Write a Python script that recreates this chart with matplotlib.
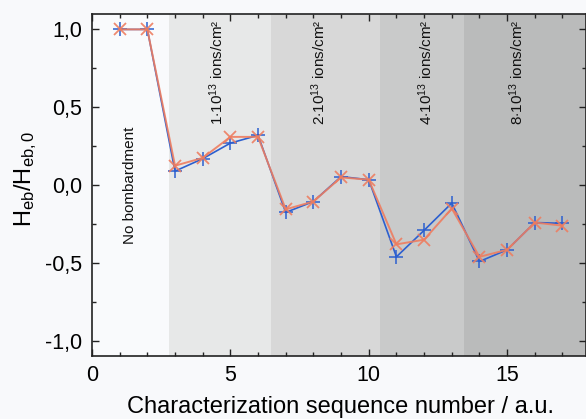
import matplotlib
matplotlib.use("Agg")
import matplotlib.pyplot as plt
from matplotlib.ticker import MultipleLocator

plt.rcParams['font.family'] = ['Liberation Sans', 'DejaVu Sans']
plt.rcParams['mathtext.fontset'] = 'custom'
plt.rcParams['mathtext.rm'] = 'Liberation Sans'
plt.rcParams['mathtext.it'] = 'Liberation Sans'

seq = list(range(1, 18))
h_blue = [1.0, 1.0, 0.09, 0.17, 0.27, 0.32, -0.175, -0.105, 0.055, 0.035,
          -0.46, -0.29, -0.115, -0.49, -0.415, -0.24, -0.245]
h_orange = [1.0, 1.0, 0.125, 0.175, 0.31, 0.31, -0.155, -0.105, 0.05, 0.035,
            -0.38, -0.35, -0.15, -0.46, -0.415, -0.24, -0.26]

band_edges = [2.8, 6.47, 10.4, 13.45, 18.0]
band_colors = ['#e7e8e8', '#d8d8d8', '#c9caca', '#babbbb']
band_labels = [r'1$\cdot$10$^{13}$ ions/cm²', r'2$\cdot$10$^{13}$ ions/cm²',
               r'4$\cdot$10$^{13}$ ions/cm²', r'8$\cdot$10$^{13}$ ions/cm²']
band_label_x = [4.52, 8.18, 12.05, 15.36]

yticks = [-1.0, -0.5, 0.0, 0.5, 1.0]
yticklabels = ['-1,0', '-0,5', '0,0', '0,5', '1,0']
xticks = [0, 5, 10, 15]

fig = plt.figure(figsize=(5.86, 4.19), dpi=100, facecolor='#f8f9fb')
ax = fig.add_axes([0.157, 0.151, 0.843, 0.816])
ax.set_facecolor('#f9fafc')

for i in range(4):
    ax.axvspan(band_edges[i], band_edges[i + 1], color=band_colors[i], lw=0, zorder=0)
    ax.text(band_label_x[i], 1.065, band_labels[i], rotation=90, ha='center', va='top',
            fontsize=11, color='#111111')

ax.text(1.39, 0.0, 'No bombardment', rotation=90, ha='center', va='center',
        fontsize=11, color='#111111')

ax.plot(seq, h_blue, color='#2c5fcf', lw=1.2, marker='+', ms=10, mew=1.1, zorder=3)
ax.plot(seq, h_orange, color='#ee7d60', lw=1.4, marker='x', ms=8.5, mew=1.3, zorder=4, alpha=0.9)

ax.set_xlim(0, 17.85)
ax.set_ylim(-1.095, 1.10)
ax.set_xticks(xticks)
ax.xaxis.set_minor_locator(MultipleLocator(1))
ax.set_yticks(yticks)
ax.set_yticklabels(yticklabels)
ax.yaxis.set_minor_locator(MultipleLocator(0.25))
ax.tick_params(which='both', direction='in', top=True, right=True, labelsize=15.5,
               color='#222222', pad=7)
ax.tick_params(which='major', length=5, width=1)
ax.tick_params(which='minor', length=3, width=1)
for s in ax.spines.values():
    s.set_color('#222222')
    s.set_linewidth(1.2)

ax.set_xlabel('Characterization sequence number / a.u.', fontsize=17)
ax.xaxis.set_label_coords(0.503, -0.118)
ax.set_ylabel(r'H$_{\mathregular{eb}}$/H$_{\mathregular{eb,0}}$', fontsize=17)
ax.yaxis.set_label_coords(-0.107, 0.518)

fig.savefig('out.png', dpi=100, facecolor=fig.get_facecolor())
